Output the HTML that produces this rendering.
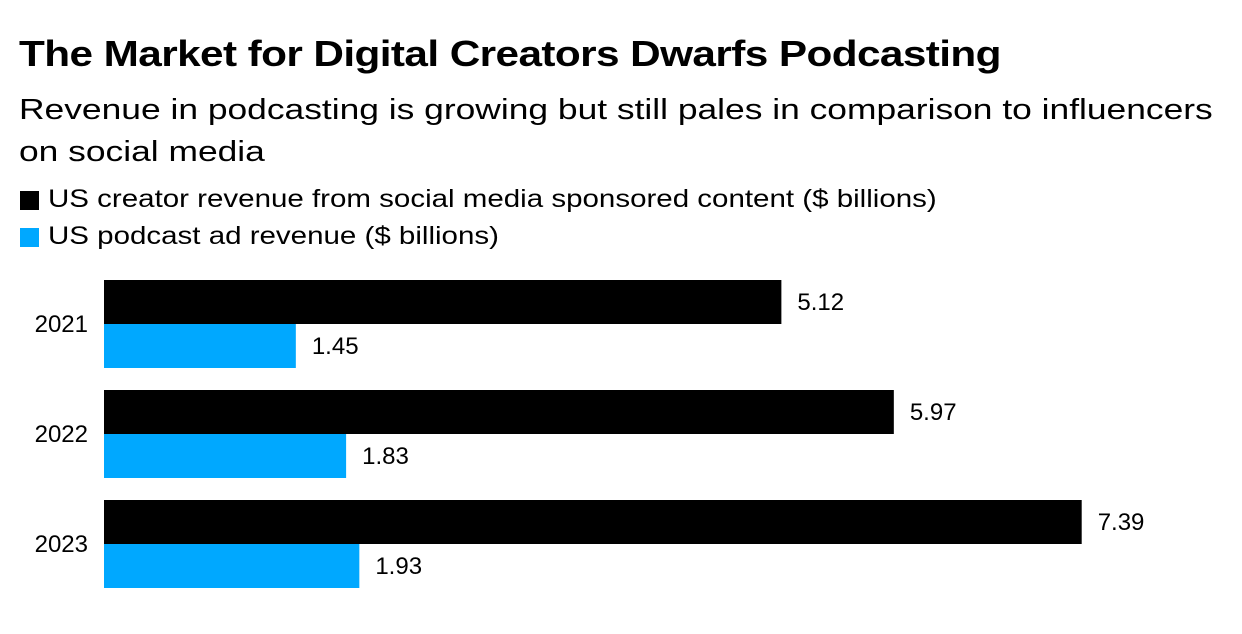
<!DOCTYPE html>
<html><head><meta charset="utf-8"><style>
body{margin:0;background:#fff;font-family:"Liberation Sans",Arial,sans-serif;}
.wrap{position:relative;width:1242px;height:634px;overflow:hidden;}
.t{position:absolute;white-space:nowrap;color:#000;transform-origin:0 0;}
</style></head><body>
<div class="wrap">
<div class="t" style="left:19px;top:33px;font-size:36px;font-weight:bold;letter-spacing:-0.5px;transform:scaleX(1.175)">The Market for Digital Creators Dwarfs Podcasting</div>
<div class="t" style="left:19px;top:89px;font-size:29px;line-height:42px;transform:scaleX(1.22)">Revenue in podcasting is growing but still pales in comparison to influencers<br>on social media</div>
<div style="position:absolute;left:20px;top:191px;width:19px;height:19px;background:#000"></div>
<div class="t" style="left:48px;top:185px;font-size:25px;transform:scaleX(1.18)">US creator revenue from social media sponsored content ($ billions)</div>
<div style="position:absolute;left:20px;top:228px;width:19px;height:19px;background:#00a8ff"></div>
<div class="t" style="left:48px;top:222px;font-size:25px;transform:scaleX(1.18)">US podcast ad revenue ($ billions)</div>
<svg id="svg" width="1242" height="634" style="position:absolute;left:0;top:0"></svg>
</div>
<script>
const years=["2021","2022","2023"];
const socialValues=[5.12,5.97,7.39];
const podcastValues=[1.45,1.83,1.93];
const valueLabels1=["5.12","5.97","7.39"];
const valueLabels2=["1.45","1.83","1.93"];
const svg=document.getElementById('svg');
const NS='http://www.w3.org/2000/svg';
const x0=104,scale=132.3;
function xs(v){return v*scale;}
function yg(i){return 280+i*110;}
function mk(tag,a){const e=document.createElementNS(NS,tag);for(const k in a)e.setAttribute(k,a[k]);svg.appendChild(e);return e;}
years.forEach((y,i)=>{
  const gy=yg(i);
  const yl=mk('text',{x:88,y:gy+52,'text-anchor':'end','font-size':24,'font-family':'Liberation Sans, Arial, sans-serif'});
  yl.textContent=y;
  
  
  const b1=mk('rect',{x:x0,y:gy,width:xs(socialValues[i]),height:44,fill:'#000'});
  
  
  const b2=mk('rect',{x:x0,y:gy+44,width:xs(podcastValues[i]),height:44,fill:'#00a8ff'});
  
  
  const t1=mk('text',{x:x0+xs(socialValues[i])+16,y:gy+30,'font-size':24,'font-family':'Liberation Sans, Arial, sans-serif'});
  t1.textContent=valueLabels1[i];
  
  
  const t2=mk('text',{x:x0+xs(podcastValues[i])+16,y:gy+74,'font-size':24,'font-family':'Liberation Sans, Arial, sans-serif'});
  t2.textContent=valueLabels2[i];
  
  
});
</script>
</body></html>
